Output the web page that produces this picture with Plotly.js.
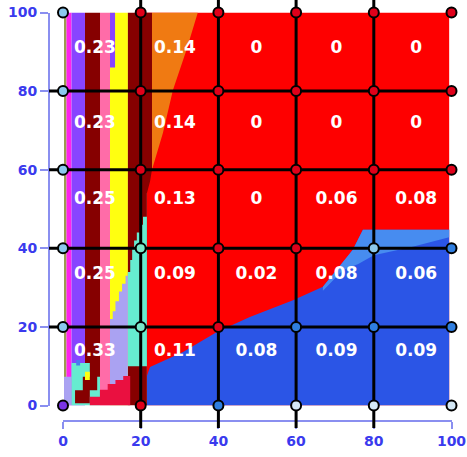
<!DOCTYPE html>
<html><head><meta charset="utf-8">
<script src="https://cdn.plot.ly/plotly-3.0.1.min.js"></script>
<style>html,body{margin:0;padding:0;background:#fff;} #chart{width:467px;height:457px;}</style>
</head><body><div id="chart"></div>
<script>
// ---------------- data ----------------
const tickValues = [0, 20, 40, 60, 80, 100];
const tickLabels = ['0', '20', '40', '60', '80', '100'];
const gridValues = [20, 40, 60, 80];

// cell fractions, rows top -> bottom
const cellValues = [
  ['0.23', '0.14', '0', '0', '0'],
  ['0.23', '0.14', '0', '0', '0'],
  ['0.25', '0.13', '0', '0.06', '0.08'],
  ['0.25', '0.09', '0.02', '0.08', '0.06'],
  ['0.33', '0.11', '0.08', '0.09', '0.09']
];
const cellColX = [8.2, 28.8, 49.8, 70.4, 90.9];
const cellRowY = [90.7, 71.7, 52.3, 33.3, 13.8];

// node phases, rows y=100 -> 0, cols x=0 -> 100
const nodeX = [0, 20, 40, 60, 80, 100];
const nodeY = [100, 80, 60, 40, 20, 0];
const nodePhase = [
  ['sky', 'red', 'red', 'red', 'red', 'red'],
  ['sky', 'red', 'red', 'red', 'red', 'red'],
  ['sky', 'red', 'red', 'red', 'red', 'red'],
  ['sky', 'aqua', 'red', 'red', 'sky', 'blue'],
  ['sky', 'aqua', 'red', 'blue', 'blue', 'blue'],
  ['purple', 'red', 'blue', 'pale', 'pale', 'pale']
];

// region boundaries (data coordinates)
const redRegionX = [21.6, 99.4, 99.4, 21.6];
const redRegionY = [0, 0, 100, 100];
const blueRegionX = [21.6, 21.6, 22.4, 30.9, 39.6, 48.1, 59.2, 66.9, 72.1, 74.6, 77.2, 99.4, 99.4];
const blueRegionY = [0, 7.5, 9.8, 13.6, 18.7, 22.5, 26.8, 30.2, 36.5, 39.6, 44.7, 44.7, 0];
const lightBandX = [66.9, 72.1, 74.6, 77.2, 99.4, 99.4, 90, 80, 76, 72.1, 66.9];
const lightBandY = [30.2, 36.5, 39.6, 44.7, 44.7, 42.8, 40.4, 38.2, 36, 34.5, 29.2];
const orangeRegionX = [22.9, 34.7, 31.8, 28.3, 25.7, 23.2, 22.9];
const orangeRegionY = [100, 100, 90.5, 80.3, 69.3, 60.7, 60];
// vertical stripes of the left band
const stripeEdges = [0.26, 0.9, 2.2, 5.66, 9.52, 12.1, 16.7];
const stripePhases = ['olive', 'magenta', 'violet', 'maroon', 'pink', 'yellow'];
const violetTopX = [12.1, 13.4, 13.4, 12.1];
const violetTopY = [86, 86, 100, 100];
const maroonRightX = [16.7, 22.9, 22.9, 22.4, 21.6, 21.6, 16.7];
const maroonRightY = [100, 100, 60, 57, 54, 0, 0];
const lavenderLowX = [0.26, 2.2, 2.2, 0.26];
const lavenderLowY = [0, 0, 7.3, 7.3];
const aquaLowX = [2.2, 9.52, 9.52, 2.2];
const aquaLowY = [0, 0, 10.8, 10.8];
const maroonLeftX = [5.66, 9.52, 9.52, 8.8, 8.8, 6.9, 6.9, 3.1, 3.1, 5.1, 5.1, 6.9, 6.9, 5.66];
const maroonLeftY = [100, 100, 7.3, 7.3, 3.9, 3.9, 0.6, 0.6, 3.9, 3.9, 7.3, 7.3, 10.8, 10.8];
const yellowBlobX = [5.66, 6.9, 6.9, 5.66];
const yellowBlobY = [6.5, 6.5, 8.6, 8.6];
const blueSpotX = [3.4, 4.4, 4.4, 3.4];
const blueSpotY = [10.2, 10.2, 11.6, 11.6];
const aquaRightX = [21.6, 21.6, 16.7, 16.7, 17.3, 17.3, 17.8, 17.8, 18.3, 18.3, 19, 19, 19.8, 19.8, 20.6, 20.6];
const aquaRightY = [48, 10, 10, 34, 34, 37, 37, 40, 40, 42, 42, 44, 44, 46, 46, 48];
const lavenderStepX = [16.7, 16.7, 16.1, 16.1, 15.2, 15.2, 14.4, 14.4, 13.5, 13.5, 12.8, 12.8, 12.1, 12.1];
const lavenderStepY = [0, 33, 33, 31, 31, 29, 29, 26.5, 26.5, 24, 24, 22, 22, 0];
const crimsonX = [6.9, 6.9, 9.5, 9.5, 11.5, 11.5, 13.5, 13.5, 15.5, 15.5, 17.3, 17.3];
const crimsonY = [0, 2.2, 2.2, 4, 4, 5.5, 5.5, 6.5, 6.5, 7.5, 7.5, 0];

// ---------------- styles ----------------
const phaseColor = {
  red: '#fe0000', blue: '#2b55e6', lightblue: '#478cf0', orange: '#f07a12',
  olive: '#9c9c50', magenta: '#ff22ee', violet: '#8844ff', maroon: '#860000',
  pink: '#ff6ca8', yellow: '#ffff10', aqua: '#66ecd0', lavender: '#aaa2f2',
  crimson: '#ea1040', spot: '#4a7af0'
};
const nodeColor = {
  sky: '#8cc8ee', red: '#e0001a', aqua: '#78e8c8', blue: '#2f7ee0',
  pale: '#d4e8f6', purple: '#7a33e6'
};

// ---------------- layout geometry ----------------
const W = 467, H = 457;
const mL = 49, mR = 5, mT = 0, mB = 29;
const pw = W - mL - mR, ph = H - mT - mB;
const px0 = 63, px100 = 451.5, py0 = 405.5, py100 = 12.5;
const xdom = [(px0 - mL) / pw, (px100 - mL) / pw];
const ydom = [(H - mB - py0) / ph, (H - mB - py100) / ph];
function ext(dom) { const s = 100 / (dom[1] - dom[0]); return [-dom[0] * s, 100 + (1 - dom[1]) * s]; }
const x2r = ext(xdom), y2r = ext(ydom);
const xAxisPos = (H - mB - 421) / ph;

// ---------------- traces ----------------
const traces = [];
function region(xs, ys, phase) {
  traces.push({
    type: 'scatter', mode: 'lines', x: xs.concat([xs[0]]), y: ys.concat([ys[0]]),
    fill: 'toself', fillcolor: phaseColor[phase], line: {width: 0, color: phaseColor[phase]},
    hoverinfo: 'skip', showlegend: false, xaxis: 'x', yaxis: 'y'
  });
}
region(redRegionX, redRegionY, 'red');
region(blueRegionX, blueRegionY, 'blue');
region(lightBandX, lightBandY, 'lightblue');
region(orangeRegionX, orangeRegionY, 'orange');
for (let i = 0; i < stripePhases.length; i++) {
  if (stripePhases[i] === 'maroon') continue;
  const a = stripeEdges[i], b = stripeEdges[i + 1];
  region([a, b, b, a], [0, 0, 100, 100], stripePhases[i]);
}
region(violetTopX, violetTopY, 'violet');
region(maroonRightX, maroonRightY, 'maroon');
region(lavenderLowX, lavenderLowY, 'lavender');
region(aquaLowX, aquaLowY, 'aqua');
region(maroonLeftX, maroonLeftY, 'maroon');
region(yellowBlobX, yellowBlobY, 'yellow');
region(blueSpotX, blueSpotY, 'spot');
region(aquaRightX, aquaRightY, 'aqua');
region(lavenderStepX, lavenderStepY, 'lavender');
region(crimsonX, crimsonY, 'crimson');

// grid lines on overlay axes
const vx = [], vy = [], hx = [], hy = [];
gridValues.forEach(g => { vx.push(g, g, null); vy.push(y2r[0], y2r[1], null); });
gridValues.forEach(g => { hx.push(x2r[0], 100, null); hy.push(g, g, null); });
traces.push({type: 'scatter', mode: 'lines', x: vx, y: vy, line: {color: '#000', width: 3},
  hoverinfo: 'skip', showlegend: false, xaxis: 'x2', yaxis: 'y2'});
traces.push({type: 'scatter', mode: 'lines', x: hx, y: hy, line: {color: '#000', width: 3},
  hoverinfo: 'skip', showlegend: false, xaxis: 'x2', yaxis: 'y2'});

// nodes
const nx = [], ny = [], nc = [];
nodeY.forEach((yv, r) => nodeX.forEach((xv, c) => { nx.push(xv); ny.push(yv); nc.push(nodeColor[nodePhase[r][c]]); }));
traces.push({type: 'scatter', mode: 'markers', x: nx, y: ny, cliponaxis: false,
  marker: {size: 10, color: nc, line: {color: '#000', width: 2}},
  hoverinfo: 'skip', showlegend: false, xaxis: 'x2', yaxis: 'y2'});

// cell labels
const tx = [], ty = [], tt = [];
cellRowY.forEach((yv, r) => cellColX.forEach((xv, c) => { tx.push(xv); ty.push(yv); tt.push(cellValues[r][c]); }));
traces.push({type: 'scatter', mode: 'text', x: tx, y: ty, text: tt, textposition: 'middle center',
  cliponaxis: false,
  textfont: {family: 'DejaVu Sans', size: 17, color: '#ffffff', weight: 'bold'},
  hoverinfo: 'skip', showlegend: false, xaxis: 'x2', yaxis: 'y2'});

const axisCol = '#8a8ff0';
const tickFont = {family: 'DejaVu Sans', size: 14, color: '#3a3aee', weight: 'bold'};
const layout = {
  width: W, height: H,
  margin: {l: mL, r: mR, t: mT, b: mB, pad: 0},
  paper_bgcolor: '#ffffff', plot_bgcolor: 'rgba(0,0,0,0)',
  showlegend: false,
  xaxis: {domain: xdom, range: [0, 100], anchor: 'free', position: xAxisPos,
    showline: true, linecolor: axisCol, linewidth: 2, ticks: 'outside', ticklen: 7, tickwidth: 2,
    tickcolor: axisCol, tickvals: tickValues, ticktext: tickLabels, tickfont: tickFont,
    showgrid: false, zeroline: false, fixedrange: true},
  yaxis: {domain: ydom, range: [0, 100], anchor: 'free', position: 0,
    showline: true, linecolor: axisCol, linewidth: 2, ticks: 'outside', ticklen: 8, tickwidth: 2,
    tickcolor: axisCol, tickvals: tickValues, ticktext: tickLabels, tickfont: tickFont,
    showgrid: false, zeroline: false, fixedrange: true},
  xaxis2: {domain: [0, 1], range: x2r, anchor: 'y2', visible: false, fixedrange: true},
  yaxis2: {domain: [0, 1], range: y2r, anchor: 'x2', visible: false, fixedrange: true}
};
Plotly.newPlot('chart', traces, layout, {displayModeBar: false, staticPlot: true});
</script>
</body></html>
